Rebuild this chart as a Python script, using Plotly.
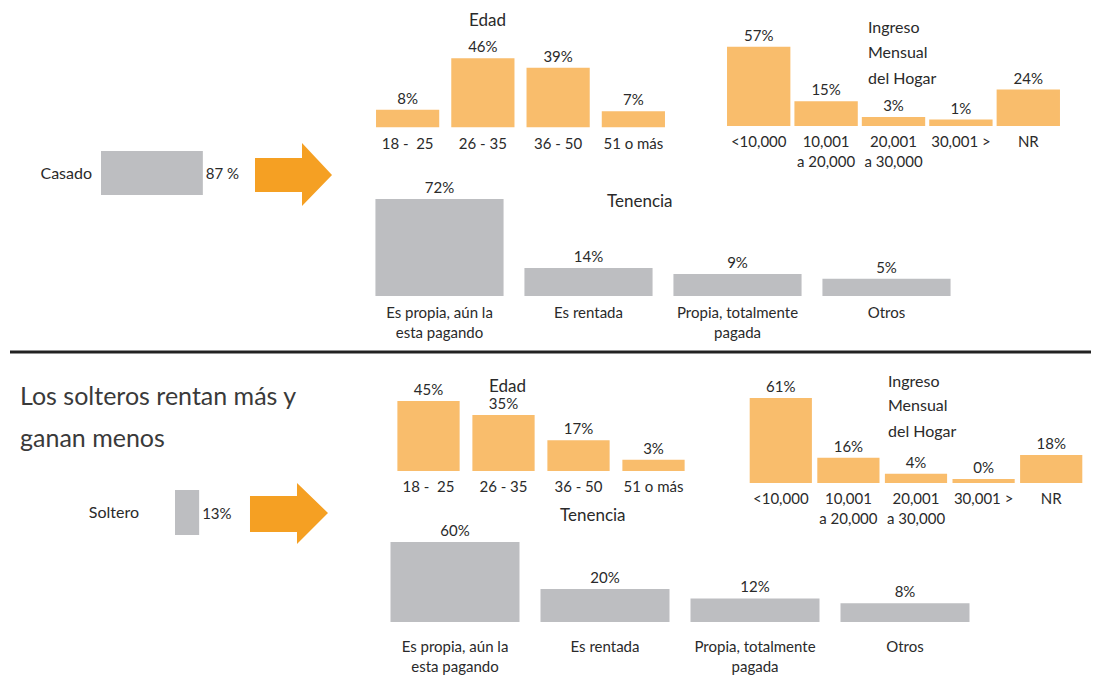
import plotly.graph_objects as go

# ---------------- data ----------------
estado_cats = ["Casado", "Soltero"]
estado_pct = [87, 13]

edad_cats = ["18 -  25", "26 - 35", "36 - 50", "51 o más"]
edad_casado = [8, 46, 39, 7]
edad_soltero = [45, 35, 17, 3]

ingreso_cats = ["<10,000", "10,001<br>a 20,000", "20,001<br>a 30,000", "30,001 >", "NR"]
ingreso_casado = [57, 15, 3, 1, 24]
ingreso_soltero = [61, 16, 4, 0, 18]

tenencia_cats = ["Es propia, aún la<br>esta pagando", "Es rentada", "Propia, totalmente<br>pagada", "Otros"]
tenencia_casado = [72, 14, 9, 5]
tenencia_soltero = [60, 20, 12, 8]

# ---------------- styling ----------------
OFF = 8                      # page body margin of the html page
W, H = 1099 - OFF, 684 - OFF
ORANGE = "#F9BD6C"
ARROW = "#F5A023"
GRAY = "#BDBEC1"
TXT = "#2a2a2a"
FONT = "Lato"


def px(x):
    return (x - OFF) / W


def py(y):
    return 1 - (y - OFF) / H


fig = go.Figure()
layout = dict(
    width=W, height=H, margin=dict(l=0, r=0, t=0, b=0),
    paper_bgcolor="white", plot_bgcolor="white", showlegend=False,
    font=dict(family=FONT, color=TXT, size=13),
)

axis_id = [0]


def next_ids():
    axis_id[0] += 1
    n = axis_id[0]
    return ("" if n == 1 else str(n)), n


def vgroup(cats, vals, color, x0, x1, baseline, ppu, base, ymax, width, standoff, tfont=15):
    s, n = next_ids()
    xa, ya = "x" + s, "y" + s
    fig.add_trace(go.Bar(
        x=cats, y=[v - base for v in vals], base=base, xaxis=xa, yaxis=ya,
        marker=dict(color=color, line=dict(width=0)), width=width,
        text=[f"{v}%" for v in vals], textposition="outside", constraintext="none",
        textfont=dict(family=FONT, size=15, color=TXT), cliponaxis=False,
        hoverinfo="skip",
    ))
    top = baseline - ppu * (ymax - base)
    layout["xaxis" + s] = dict(
        domain=[px(x0), px(x1)], anchor=ya, type="category",
        range=[-0.5, len(cats) - 0.5], showgrid=False, zeroline=False,
        showline=False, ticks="", ticklabelstandoff=standoff,
        tickfont=dict(family=FONT, size=tfont, color=TXT), fixedrange=True,
    )
    layout["yaxis" + s] = dict(
        domain=[py(baseline), py(top)], anchor=xa, range=[base, ymax],
        visible=False, fixedrange=True,
    )


def hgroup(cat, val, x0, y0, y1, ppu, base, xmax, standoff):
    s, n = next_ids()
    xa, ya = "x" + s, "y" + s
    fig.add_trace(go.Bar(
        y=[cat], x=[val - base], base=base, orientation="h", xaxis=xa, yaxis=ya,
        marker=dict(color=GRAY, line=dict(width=0)), width=1,
        text=[f"{val} %" if val > 50 else f"{val}%"], textposition="outside",
        constraintext="none",
        textfont=dict(family=FONT, size=15, color=TXT), cliponaxis=False,
        hoverinfo="skip",
    ))
    layout["xaxis" + s] = dict(
        domain=[px(x0), px(x0 + ppu * (xmax - base))], anchor=ya,
        range=[base, xmax], visible=False, fixedrange=True,
    )
    layout["yaxis" + s] = dict(
        domain=[py(y1), py(y0)], anchor=xa, type="category", range=[-0.5, 0.5],
        showgrid=False, zeroline=False, showline=False, ticks="",
        ticklabelstandoff=standoff, tickfont=dict(family=FONT, size=16, color=TXT),
        fixedrange=True,
    )


# Casado
hgroup(estado_cats[0], estado_pct[0], 101, 151, 195, 1.05, -10, 100, 8)
vgroup(edad_cats, edad_casado, ORANGE, 370, 671, 127.5, 1.36, -5, 50, 0.84, 5)
vgroup(ingreso_cats, ingreso_casado, ORANGE, 725, 1062, 126, 1.3, -4, 60, 0.94, 5)
vgroup(tenencia_cats, tenencia_casado, GRAY, 365, 961, 296, 1.19, -9.5, 75, 0.86, 6)

# Soltero
hgroup(estado_cats[1], estado_pct[1], 175, 490, 535, 1.05, -10, 100, 35)
vgroup(edad_cats, edad_soltero, ORANGE, 391, 691, 471, 1.4, -5, 50, 0.83, 5)
vgroup(ingreso_cats, ingreso_soltero, ORANGE, 747, 1085, 483, 1.33, -3, 65, 0.92, 5)
vgroup(tenencia_cats, tenencia_soltero, GRAY, 380, 980, 622, 1.175, -8, 65, 0.86, 14)


def arrow(x0, y_top_shaft, y_bot_shaft, xh, y_top_head, y_bot_head, xt, yt):
    pts = [(x0, y_top_shaft), (xh, y_top_shaft), (xh, y_top_head), (xt, yt),
           (xh, y_bot_head), (xh, y_bot_shaft), (x0, y_bot_shaft)]
    path = "M " + " L ".join(f"{px(a):.5f},{py(b):.5f}" for a, b in pts) + " Z"
    return dict(type="path", xref="paper", yref="paper", path=path,
                fillcolor=ARROW, line=dict(width=0), layer="above")


shapes = [
    arrow(255, 158, 192, 302, 143, 206, 332, 175),
    arrow(250, 496, 532, 297, 483, 544, 328, 513),
    dict(type="line", xref="paper", yref="paper", x0=px(10), x1=1,
         y0=py(352), y1=py(352), line=dict(color="#222222", width=3)),
]
layout["shapes"] = shapes


def ann(text, x, y, size=14, xanchor="center", color=TXT):
    return dict(text=text, x=px(x), y=py(y), xref="paper", yref="paper",
                xanchor=xanchor, yanchor="middle", showarrow=False,
                font=dict(family=FONT, size=size, color=color))


annotations = [
    ann("Edad", 487, 19, 17),
    ann("Tenencia", 640, 200, 17),
    ann("Ingreso", 866, 27, 16, "left"),
    ann("Mensual", 866, 51, 16, "left"),
    ann("del Hogar", 866, 77, 16, "left"),
    ann("Los solteros rentan más y", 18, 395, 25, "left", "#3a3a3a"),
    ann("ganan menos", 18, 437, 25, "left", "#3a3a3a"),
    ann("Edad", 507, 385, 17),
    ann("Tenencia", 593, 514, 17),
    ann("Ingreso", 886, 380, 16, "left"),
    ann("Mensual", 886, 405, 16, "left"),
    ann("del Hogar", 886, 430, 16, "left"),
]
layout["annotations"] = annotations

fig.update_layout(**layout)
fig.write_html("out.html")
